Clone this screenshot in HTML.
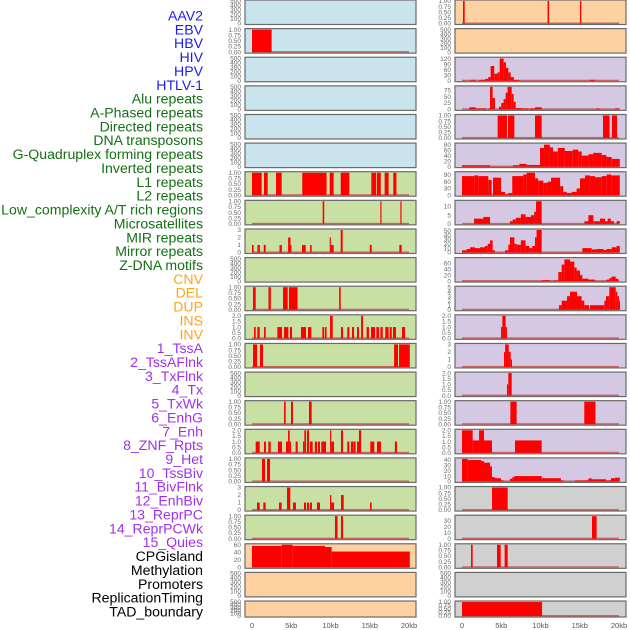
<!DOCTYPE html>
<html><head><meta charset="utf-8"><style>
html,body{margin:0;padding:0;background:#fff;width:630px;height:630px;overflow:hidden}
svg{display:block}
text{font-family:"Liberation Sans",sans-serif}
</style></head><body>
<svg id="chart" width="630" height="630" viewBox="0 0 630 630" xmlns="http://www.w3.org/2000/svg"></svg>
<script>
// ---------- data (kb intervals: [start, end, value]) ----------
const trackLabels = ["AAV2","EBV","HBV","HIV","HPV","HTLV-1","Alu repeats","A-Phased repeats","Directed repeats","DNA transposons","G-Quadruplex forming repeats","Inverted repeats","L1 repeats","L2 repeats","Low_complexity A/T rich regions","Microsatellites","MIR repeats","Mirror repeats","Z-DNA motifs","CNV","DEL","DUP","INS","INV","1_TssA","2_TssAFlnk","3_TxFlnk","4_Tx","5_TxWk","6_EnhG","7_Enh","8_ZNF_Rpts","9_Het","10_TssBiv","11_BivFlnk","12_EnhBiv","13_ReprPC","14_ReprPCWk","15_Quies","CPGisland","Methylation","Promoters","ReplicationTiming","TAD_boundary"];
const labelGroups = [6,13,5,15,5];
const xTickLabels = ["0","5kb","10kb","15kb","20kb"];
const xTickValues = [0,5,10,15,20];

const T500 = ["0","100","200","300","400","500"];
const T1 = ["0.00","0.25","0.50","0.75","1.00"];
const T2 = ["0.0","0.5","1.0","1.5","2.0"];
const T3 = ["0","1","2","3"];

// left column
const L0 = [];
const L1 = [[0,2.5,1]];
const L2 = [], L3 = [], L4 = [], L5 = [];
const L6 = [[0,1.23,1],[1.53,2.0,1],[3.06,3.78,1],[6.4,9.5,1],[9.9,10.4,1],[11.3,12.4,1],[15.2,15.8,1],[15.9,16.4,1],[16.9,17.4,1],[18.0,18.4,1]];
const L7 = [[9.0,9.2,1],[16.35,16.5,1],[18.9,19.05,1]];
const L8 = [[0,0.2,1],[0.7,1.0,1],[1.5,1.75,1],[3.5,3.8,1],[4.6,4.9,2],[4.9,5.0,1],[6.37,6.84,1],[7.4,7.6,1],[9.9,10.05,2],[10.05,10.4,1],[11.3,11.55,3],[15.0,15.25,1],[18.77,19.07,1]];
const L9 = [];
const L10 = [[0.13,0.47,1],[2.1,2.4,1],[3.95,4.55,1],[4.7,5.8,1],[11.1,11.3,1]];
const L11 = [[0.25,0.47,1],[0.68,0.98,1],[1.53,1.74,1],[3.23,3.82,1],[4.08,4.63,1],[4.84,5.1,1],[6.24,6.88,1],[7.13,7.56,1],[8.96,9.2,1],[9.3,9.5,1],[9.94,10.28,2],[11.34,11.6,1],[12.14,12.4,1],[12.74,13.0,1],[13.38,13.63,1],[13.9,14.14,2],[14.6,14.9,1],[15.16,15.67,1],[15.84,16.18,1],[16.35,16.65,1],[16.98,17.4,1],[17.54,17.8,1],[17.96,18.34,1],[19.1,19.5,1]];
const L12 = [[0.13,0.64,1],[1.02,1.4,1],[18.1,18.6,1],[18.73,20.1,1]];
const L13 = [];
const L14 = [[4.08,4.29,1],[4.97,5.22,1],[7.26,7.6,1]];
const L15 = [[0.47,0.98,1],[1.53,1.78,1],[2.08,2.38,1],[3.3,3.82,1],[4.33,4.59,1],[4.59,4.8,2],[4.8,4.97,1],[5.56,5.82,1],[6.5,6.67,1],[6.67,6.88,2],[7.0,7.26,2],[7.39,7.73,1],[8.0,8.28,1],[8.4,8.66,1],[8.83,9.43,1],[9.94,10.1,2],[10.1,10.45,1],[11.34,11.6,2],[12.14,12.4,1],[12.6,12.87,1],[12.9,13.2,1],[13.38,13.63,1],[13.63,13.9,2],[15.07,15.58,1],[15.92,16.43,1],[18.2,18.47,1]];
const L16 = [[1.27,1.66,1],[1.91,2.3,1]];
const L17 = [[0.64,0.98,1],[1.44,1.74,1],[3.44,3.78,1],[4.46,4.88,3],[5.22,5.6,1],[6.62,6.88,1],[7.0,7.26,1],[7.39,7.64,1],[8.28,8.66,1],[9.94,10.1,2],[10.1,10.45,1],[11.34,11.68,2],[15.03,15.24,1]];
const L18 = [[10.57,10.9,1],[11.34,11.6,1]];
const L19 = [[0,3.78,57],[3.78,5.18,60],[5.18,9.3,57],[9.3,10.15,54],[10.15,20.1,42]];
const L20 = [], L21 = [];

// right column
const R0 = [[0.13,0.34,1],[10.9,11.1,1],[15.03,15.2,1]];
const R1 = [];
const R2 = [[1.1,1.7,5],[2.2,2.95,5],[2.95,3.35,10],[3.35,3.65,20],[3.65,4.1,80],[4.1,4.5,38],[4.5,4.8,45],[4.8,5.3,120],[5.3,5.6,100],[5.6,5.9,70],[5.9,6.2,45],[6.2,6.6,20],[6.6,7.3,4],[16.3,16.9,5]];
const R3 = [[0.93,1.74,8],[1.74,3.06,4],[3.35,3.57,4],[3.57,3.9,88],[3.9,4.2,45],[4.71,5.0,10],[5.0,5.3,25],[5.3,5.56,40],[5.56,5.8,65],[5.8,6.33,88],[6.33,6.58,60],[6.58,6.84,30],[6.84,7.8,5],[7.9,8.45,4],[8.66,9.3,4],[9.3,10.15,8],[17.15,17.5,4],[19.5,20.1,4]];
const R4 = [[4.54,5.73,1],[5.86,6.67,1],[9.3,10.15,1],[17.96,18.8,1],[19.1,19.75,1]];
const R5 = [[0,3.57,5],[6.5,7.3,5],[7.3,8.24,10],[8.24,9.1,6],[9.1,9.94,6],[9.94,10.45,68],[10.45,11.2,80],[11.2,11.6,70],[11.6,12.2,55],[12.2,13.1,68],[13.1,14.1,57],[14.1,14.8,62],[14.8,15.25,55],[15.25,16.1,40],[16.1,16.7,45],[16.7,17.8,50],[17.8,18.4,42],[18.4,19.07,35],[19.07,20.1,28]];
const R6 = [[0,1.57,85],[1.57,2.08,88],[2.08,3.35,85],[3.35,3.78,68],[3.95,4.97,78],[4.97,5.48,15],[5.48,5.9,5],[5.9,6.4,10],[6.4,7.8,85],[7.8,8.24,92],[8.24,9.3,100],[9.3,9.7,75],[9.7,10.36,65],[10.36,10.9,55],[10.9,11.34,60],[11.34,12.5,78],[12.5,12.9,40],[12.9,13.34,15],[13.34,13.97,10],[13.97,14.6,15],[14.6,15.03,30],[15.03,15.67,75],[15.67,16.3,88],[16.3,16.94,85],[16.94,17.8,80],[17.8,18.43,85],[18.43,19.0,92],[19.0,20.1,88]];
const R7 = [[1.53,2.72,3],[2.72,3.57,4],[6.11,6.45,1.5],[6.45,6.84,2.5],[6.84,7.5,3.5],[7.5,8.1,5.5],[8.1,8.79,4],[8.79,9.2,5],[9.2,9.43,7],[9.43,10.15,13],[15.6,16.1,1.5],[16.1,16.73,5],[16.73,17.58,1.5],[17.58,18.22,3],[18.22,18.56,1.5],[18.56,18.94,3],[18.94,19.36,1.5],[19.7,20.1,1.5]];
const R8 = [[0,0.6,5],[0.6,1.02,8],[1.02,1.66,12],[1.66,2.29,10],[2.29,2.93,12],[2.93,3.27,15],[3.27,3.57,20],[3.57,3.9,28],[3.9,4.2,5],[5.48,5.9,5],[5.9,6.11,18],[6.11,6.67,35],[6.67,6.96,20],[6.96,7.5,18],[7.5,8.1,28],[8.1,8.58,15],[8.58,8.96,10],[8.96,9.3,15],[9.3,9.5,35],[9.5,10.15,52],[15.33,16.52,10],[16.52,17.15,7],[17.15,18.0,8],[18.0,18.43,6],[18.43,19.07,8],[19.07,19.7,12],[19.7,20.1,15]];
const R9 = [[10.19,11.2,3],[11.7,12.27,2],[12.27,12.7,30],[12.7,13.04,55],[13.04,13.76,72],[13.76,14.31,65],[14.31,14.6,45],[14.6,15.03,35],[15.03,15.33,20],[15.33,16.1,8],[16.1,16.94,5],[18.43,18.77,5],[18.77,19.07,10],[19.07,19.58,15],[19.58,19.92,8]];
const R10 = [[12.36,12.7,1],[12.7,13.38,2],[13.38,13.76,3],[13.76,14.65,4],[14.65,15.24,3],[15.24,15.58,2],[15.58,16.18,1],[16.3,18.13,1],[18.13,18.34,2],[18.34,18.77,3],[18.77,19.58,5],[19.58,19.79,4],[19.79,20.0,3],[20.0,20.1,2]];
const R11 = [[4.97,5.14,1],[5.14,5.56,2],[5.56,5.73,1]];
const R12 = [[5.35,5.5,2],[5.5,5.95,3],[5.95,6.2,2],[6.2,6.37,1]];
const R13 = [[5.73,5.9,1],[5.9,6.33,2]];
const R14 = [[6.16,6.96,1],[15.58,17.0,1]];
const R15 = [[0,1.36,2],[1.36,2.17,1.1],[2.17,2.8,2],[2.8,3.82,1.1],[6.75,10.15,1.1]];
const R16 = [[0,0.72,42],[0.72,2.42,40],[2.42,2.8,38],[2.8,3.57,35],[3.57,3.82,28],[3.82,4.2,8],[4.2,4.97,6],[4.97,5.31,2],[6.11,6.41,5],[6.41,6.67,8],[6.67,10.15,10],[10.15,12.6,6],[12.6,12.95,2],[14.4,16.0,2],[16.0,16.2,4],[16.2,16.52,6],[16.52,18.34,4],[18.34,18.98,2],[18.98,19.5,6],[19.5,20.1,7]];
const R17 = [[3.82,5.82,1]];
const R18 = [[16.56,17.15,38]];
const R19 = [[1.15,1.36,1],[4.46,4.93,1],[5.43,5.82,1]];
const R20 = [];
const R21 = [[0,10.2,1]];

const leftSeries = [L0,L1,L2,L3,L4,L5,L6,L7,L8,L9,L10,L11,L12,L13,L14,L15,L16,L17,L18,L19,L20,L21];
const rightSeries = [R0,R1,R2,R3,R4,R5,R6,R7,R8,R9,R10,R11,R12,R13,R14,R15,R16,R17,R18,R19,R20,R21];
const leftTicks = [T500,T1,T500,T500,T500,T500,T1,T1,T3,T500,T1,T2,T1,T500,T1,T2,T1,T3,T1,["0","20","40","60"],T500,T500];
const leftMax = [500,1,500,500,500,500,1,1,3,500,1,2,1,500,1,2,1,3,1,60,500,500];
const rightTicks = [T1,T500,["0","30","60","90","120"],["0","25","50","75"],T1,["0","20","40","60","80"],["0","30","60","90"],["0","5","10"],["0","10","20","30","40","50"],["0","20","40","60"],["0","1","2","3","4","5"],T2,T3,T2,T1,T2,["0","10","20","30","40"],T1,["0","10","20","30"],T1,T500,T1];
const rightTickVals = [null,null,[0,30,60,90,120],[0,25,50,75],null,[0,20,40,60,80],[0,30,60,90],[0,5,10],[0,10,20,30,40,50],[0,20,40,60],[0,1,2,3,4,5],null,null,null,null,null,[0,10,20,30,40],null,[0,10,20,30],null,null,null];
const rightMax = [1,500,122,88,1,82,100,13,52,75,5,2,3,2,1,2,42,1,38,1,500,1];

// ---------- drawing ----------
const NS = "http://www.w3.org/2000/svg";
const svg = document.getElementById("chart");
function mk(tag, attrs, parent){ const e=document.createElementNS(NS,tag); for(const k in attrs) e.setAttribute(k,attrs[k]); (parent||svg).appendChild(e); return e; }

const labelColors = ["#1c1cf5","#137013","#ffa31a","#a030ec","#000000"];
let li=0;
labelGroups.forEach((n,g)=>{ for(let j=0;j<n;j++,li++){
  const t=mk("text",{x:203,y:20.5+li*13.86,"text-anchor":"end","font-size":"14.1",fill:labelColors[g]});
  t.textContent=trackLabels[li];
  
  
}});

const bgLeft = i => i<6 ? "#c9e4ec" : (i<19 ? "#c8e0a4" : "#fed1a0");
const bgRight = i => i<2 ? "#fed1a0" : (i<17 ? "#d5c8e2" : "#d0d0d0");

function rowTop(i){ return 28.62*i; }
function rowH(i){ return i===21 ? 16 : 24.5; }

function drawPanel(col, i, data, ticks, ymax, tickVals, bg){
  const px = col===0 ? 245 : 455;
  const x0 = col===0 ? 252 : 462;
  const kbScale = 157/20;
  const xs = kb => x0 + kb*kbScale;
  const top = rowTop(i), h = rowH(i), bottom = top+h;
  const ys = v => bottom - 1 - (v/ymax)*(h-2);
  const g = mk("g",{});
  
  
  mk("rect",{x:px,y:top,width:171,height:h,fill:bg,stroke:"#6a6a6a","stroke-width":1.2},g);
  ticks.forEach((lab,k)=>{
    const v = tickVals ? tickVals[k] : (k/(ticks.length-1))*ymax;
    const t = mk("text",{x:px-4,y:ys(v)+2.2,"text-anchor":"end","font-size":"6.5",fill:"#6a6a6a"},g);
    t.textContent = lab;
    
    
  });
  if(data.length===0 && ymax===500) return;
  const bl = mk("rect",{x:xs(0),y:bottom-2,width:xs(20)-xs(0),height:1.5,fill:"#c85050",opacity:0.85},g);
  
  
  data.forEach(d=>{
    const y = ys(d[2]);
    const r = mk("rect",{x:xs(d[0]),y:y,width:Math.max(1,xs(d[1])-xs(d[0])),height:bottom-1-y,fill:"#ff0000"},g);
    
    
  });
}
for(let i=0;i<22;i++){
  drawPanel(0,i,leftSeries[i],leftTicks[i],leftMax[i],null,bgLeft(i));
  drawPanel(1,i,rightSeries[i],rightTicks[i],rightMax[i],rightTickVals[i],bgRight(i));
}
[252,462].forEach((x0,c)=>{
  xTickValues.forEach((v,k)=>{
    const t=mk("text",{x:x0+v*157/20,y:628,"text-anchor":"middle","font-size":"7.5",fill:"#555"});
    t.textContent=xTickLabels[k];
    
    
  });
});
</script>
</body></html>
